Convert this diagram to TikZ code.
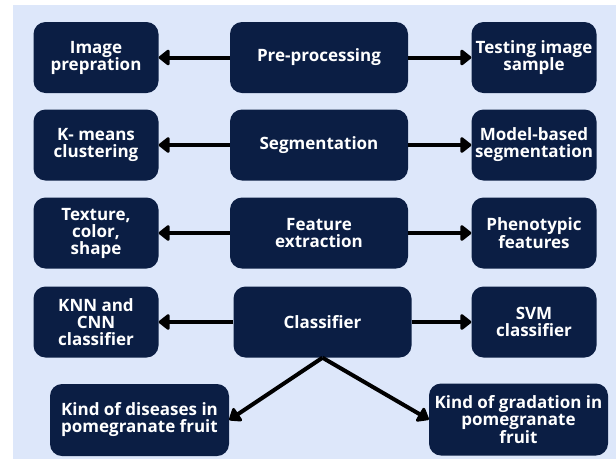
\documentclass[tikz,border=0pt]{standalone}
\usepackage{fontspec}
\setmainfont{Open Sans}
\usetikzlibrary{arrows.meta}

\definecolor{navy}{RGB}{11,30,68}
\definecolor{paleblue}{RGB}{221,231,250}

\begin{document}
\begin{tikzpicture}[x=1pt,y=-1pt,
		box/.style={fill=navy, text=white, rounded corners=12pt, inner sep=0pt,
			align=center, font=\bfseries\fontsize{17}{17}\selectfont},
		mid/.style={box, minimum width=178pt, minimum height=71pt},
		side/.style={box, minimum width=125pt, minimum height=71pt},
		leaf/.style={box, minimum width=179pt, minimum height=72pt},
		arr/.style={line width=4pt, -{Triangle[length=12pt,width=18pt,round]}}]

			\useasboundingbox (0,0) rectangle (616,459);
			\fill[paleblue] (13,5) rectangle (616,459);

			% middle column
			\node[mid] (pre) at (319,57.5) {Pre-processing};
			\node[mid] (seg) at (319,145) {Segmentation};
			\node[mid] (feat) at (319,233) {Feature\\extraction};
			\node[mid] (cls) at (322.5,322) {Classifier};

			% left column
			\node[side] (prep) at (96,57.5) {Image\\prepration};
			\node[side] (kmeans) at (96,145) {K- means\\clustering};
			\node[side] (tex) at (96,233) {Texture,\\color,\\shape};
			\node[side] (knn) at (96,322) {KNN and\\CNN\\classifier};

			% right column
			\node[side] (test) at (534,57.5) {Testing image\\sample};
			\node[side] (model) at (534,145) {Model-based\\segmentation};
			\node[side] (pheno) at (534,233) {Phenotypic\\features};
			\node[side] (svm) at (534,322) {SVM\\classifier};

			% outputs
			\node[leaf] (dis) at (139.5,420) {Kind of diseases in\\pomegranate fruit};
			\node[leaf] (grad) at (518.5,419.5) {Kind of gradation in\\pomegranate\\fruit};

			\draw[arr] (pre) -- (prep);
			\draw[arr] (pre) -- (test);
			\draw[arr] (seg) -- (kmeans);
			\draw[arr] (seg) -- (model);
			\draw[arr] (feat) -- (tex);
			\draw[arr] (feat) -- (pheno);
			\draw[arr] (cls) -- (knn);
			\draw[arr] (cls) -- (svm);

			\draw[arr] (cls.south) -- (dis.east);
			\draw[arr] (cls.south) -- (grad.west);
		\end{tikzpicture}
\end{document}
